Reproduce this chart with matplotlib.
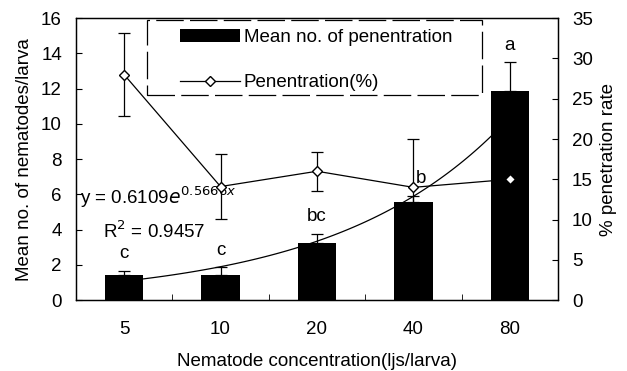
import numpy as np
import matplotlib
matplotlib.use("Agg")
import matplotlib.pyplot as plt
from matplotlib.patches import Rectangle

concentration = ["5", "10", "20", "40", "80"]
mean_nematodes = [1.42, 1.42, 3.22, 5.59, 11.85]
mean_err = [0.25, 0.45, 0.55, 0.3, 1.65]
penetration = [28.0, 14.1, 16.0, 14.0, 15.0]
penetration_err = [5.1, 4.0, 2.4, 6.0, 0.0]
letters = ["c", "c", "bc", "b", "a"]
fit_a, fit_b = 0.6109, 0.5666


def main():
    plt.rcParams['font.family'] = ['Liberation Sans', 'DejaVu Sans']
    plt.rcParams['font.size'] = 13.5
    plt.rcParams['axes.linewidth'] = 0.9

    fig = plt.figure(figsize=(6.27, 3.71), dpi=100)
    ax = fig.add_axes([0.121, 0.191, 0.769, 0.76])
    x = np.arange(1, len(concentration) + 1)

    # exponential trend line, drawn behind the bars
    xs = np.linspace(1, 5, 100)
    ax.plot(xs, fit_a * np.exp(fit_b * xs), color="black", lw=0.9, zorder=1)

    ax.bar(x, mean_nematodes, width=0.4, color="black", zorder=2,
           label="Mean no. of penentration")
    ax.errorbar(x, mean_nematodes, yerr=[np.zeros(5), mean_err], fmt="none",
                ecolor="black", elinewidth=0.9, capsize=4.3, capthick=0.9,
                zorder=1.5)

    ax.set_xlim(0.5, 5.5)
    ax.set_ylim(0, 16)
    ax.set_yticks(range(0, 17, 2))
    ax.set_xticks(x)
    ax.set_xticklabels(concentration)
    ax.set_xticks(np.arange(1.5, 5.5, 1), minor=True)
    ax.tick_params(axis="x", which="major", length=0, pad=15)
    ax.tick_params(axis="x", which="minor", direction="in", length=4)
    ax.tick_params(axis="y", direction="in", length=4, pad=10)
    ax.set_xlabel("Nematode concentration(ljs/larva)", labelpad=11)
    ax.set_ylabel("Mean no. of nematodes/larva", labelpad=6)

    for xi, yi, e, t in zip(x, mean_nematodes, mean_err, letters):
        if t == "b":
            ax.text(xi + 0.03, 6.93, t, ha="left", va="center")
        else:
            ax.text(xi, yi + e + 0.95, t, ha="center", va="center")

    ax.text(0.54, 5.85, r"y = 0.6109$e^{0.5666x}$", ha="left", va="center")
    ax.text(0.78, 3.9, r"R$^2$ = 0.9457", ha="left", va="center")

    ax2 = ax.twinx()
    ax2.set_ylim(0, 35)
    ax2.set_yticks(range(0, 36, 5))
    ax2.tick_params(axis="y", direction="in", length=4, pad=10)
    ax2.set_ylabel("% penetration rate", labelpad=5)
    ax2.errorbar(x[:4], penetration[:4], yerr=penetration_err[:4], fmt="none",
                 ecolor="black", elinewidth=0.9, capsize=4.3, capthick=0.9)
    ax2.plot(x, penetration, color="black", lw=0.9, marker="D", markersize=5.5,
             markerfacecolor="white", markeredgecolor="black",
             label="Penentration(%)")

    # legend box (broken frame drawn separately)
    ax2.add_patch(Rectangle((0.147, 0.727), 0.695, 0.266, transform=ax2.transAxes,
                            fill=False, edgecolor="black", lw=0.9,
                            linestyle=(0, (22, 5)), clip_on=False))
    h1, l1 = ax.get_legend_handles_labels()
    h2, l2 = ax2.get_legend_handles_labels()
    ax2.legend(h1 + h2[:1], l1 + l2[:1], loc="upper left",
               bbox_to_anchor=(0.216, 0.962), frameon=False, borderpad=0,
               borderaxespad=0, handlelength=3.2, handletextpad=0.2,
               labelspacing=1.5, fontsize=13.5)

    fig.savefig("out.png", dpi=100)


if __name__ == '__main__':
    main()
